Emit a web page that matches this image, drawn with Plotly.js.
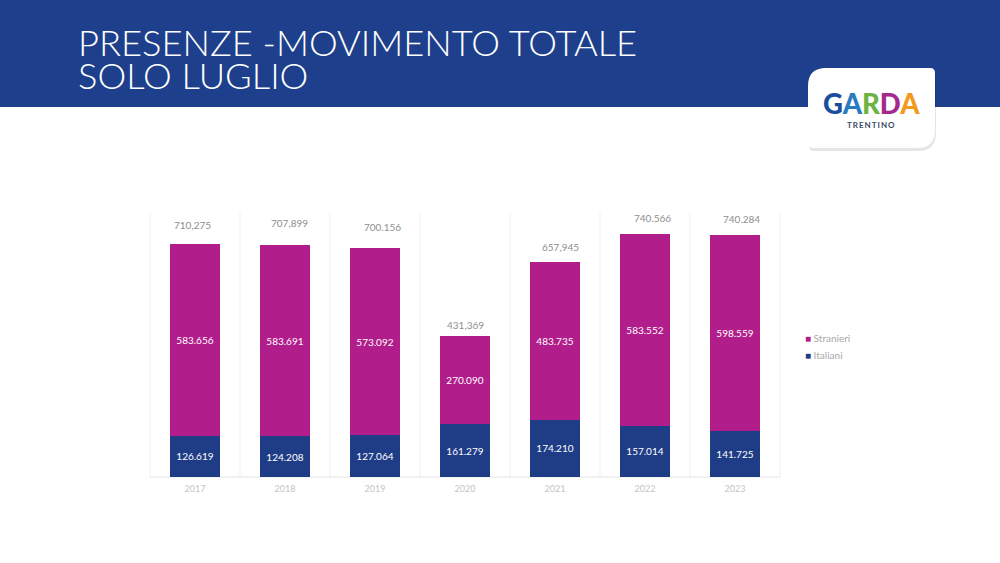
<!DOCTYPE html>
<html><head><meta charset="utf-8">
<script src="https://cdn.plot.ly/plotly-3.0.1.min.js"></script>
<style>html,body{margin:0;padding:0;background:#fff}#chart{width:1000px;height:563px}</style>
</head><body><div id="chart"></div>
<script>
const years = ['2017','2018','2019','2020','2021','2022','2023'];
const italiani = [126619,124208,127064,161279,174210,157014,141725];
const stranieri = [583656,583691,573092,270090,483735,583552,598559];
const totalLabels = ['710,275','707,899','700.156','431,369','657,945','740.566','740.284'];
const seriesNames = ['Italiani','Stranieri'];
const titleLines = ['PRESENZE -MOVIMENTO TOTALE','SOLO LUGLIO'];
const logoLetters = ['G','A','R','D','A'];
const logoSub = 'TRENTINO';

const BLUE='#1f3d87', MAG='#b11e8b', HEADER='#1e3f8b';
const W=1000, H=563;
const px = v => v/W, py = v => 1 - v/H;
const fmt = v => String(v).replace(/\B(?=(\d{3})+(?!\d))/g,'.');
const totals = italiani.map((v,i)=>v+stranieri[i]);
const XD = [0.15, 0.78];

const barStyle = {type:'bar', x:years, width:0.56, textposition:'inside', insidetextanchor:'middle',
  textfont:{color:'#ffffff', size:10, family:'Lato, sans-serif'}, hoverinfo:'x+y+name', showlegend:false};
const traces = [
  Object.assign({}, barStyle, {name:seriesNames[0], y:italiani, text:italiani.map(fmt), marker:{color:BLUE}}),
  Object.assign({}, barStyle, {name:seriesNames[1], y:stranieri, text:stranieri.map(fmt), marker:{color:MAG}})
];

const shapes = [];
shapes.push({type:'rect', xref:'paper', yref:'paper', x0:0, x1:1, y0:py(107), y1:1.01, fillcolor:HEADER, line:{width:0}, layer:'below'});
for (let i=0;i<=years.length;i++){
  const xp = XD[0] + (XD[1]-XD[0])*i/years.length;
  shapes.push({type:'line', xref:'paper', yref:'paper', x0:xp, x1:xp, y0:py(477), y1:py(213), line:{color:'#efefef', width:1}, layer:'below'});
}
shapes.push({type:'line', xref:'paper', yref:'paper', x0:XD[0], x1:XD[1], y0:py(477), y1:py(477), line:{color:'#e4e4e4', width:1}, layer:'below'});
function cardPath(l,t,r,b,rtl,rtr,rbr,rbl,dx,dy){
  l+=dx;r+=dx;t+=dy;b+=dy;
  const P=(x,y)=>px(x).toFixed(5)+','+py(y).toFixed(5);
  return 'M'+P(l+rtl,t)+' L'+P(r-rtr,t)+' Q'+P(r,t)+' '+P(r,t+rtr)+
    ' L'+P(r,b-rbr)+' Q'+P(r,b)+' '+P(r-rbr,b)+
    ' L'+P(l+rbl,b)+' Q'+P(l,b)+' '+P(l,b-rbl)+
    ' L'+P(l,t+rtl)+' Q'+P(l,t)+' '+P(l+rtl,t)+' Z';
}
shapes.push({type:'path', xref:'paper', yref:'paper', path:cardPath(808,68,935,148,18,5,18,5,1,3), fillcolor:'rgba(0,0,0,0.10)', line:{width:0}});
shapes.push({type:'path', xref:'paper', yref:'paper', path:cardPath(808,68,935,148,18,5,18,5,0,0), fillcolor:'#ffffff', line:{width:0}});

const annotations = [];
annotations.push({xref:'paper', yref:'paper', x:px(76), y:py(42), xanchor:'left', yanchor:'middle', showarrow:false,
  text:titleLines[0], font:{family:'Lato, sans-serif', size:36.3, color:'#ffffff', weight:300}});
annotations.push({xref:'paper', yref:'paper', x:px(76), y:py(75), xanchor:'left', yanchor:'middle', showarrow:false,
  text:titleLines[1], font:{family:'Lato, sans-serif', size:36.3, color:'#ffffff', weight:300}});
const nudgeX = [-3,4,7,0,5,7,6], nudgeY = [19,22,21,11,15,16,16];
totals.forEach((t,i)=>annotations.push({x:i, y:t, xref:'x', yref:'y', text:totalLabels[i], showarrow:false,
  xanchor:'center', yanchor:'middle', xshift:nudgeX[i], yshift:nudgeY[i], font:{family:'Lato, sans-serif', size:10, color:'#8e8e8e'}}));
annotations.push({xref:'paper', yref:'paper', x:px(803), y:py(338), xanchor:'left', yanchor:'middle', showarrow:false,
  text:'<span style="color:'+MAG+'">■</span> '+seriesNames[1], font:{family:'Lato, sans-serif', size:10, color:'#a8a8a8'}});
annotations.push({xref:'paper', yref:'paper', x:px(803), y:py(355), xanchor:'left', yanchor:'middle', showarrow:false,
  text:'<span style="color:'+BLUE+'">■</span> '+seriesNames[0], font:{family:'Lato, sans-serif', size:10, color:'#a8a8a8'}});
const logoColors = ['#1d4e9e','#2a7cc0','#6db33f','#a5288f','#f39a1e'];
annotations.push({xref:'paper', yref:'paper', x:px(871), y:py(104), xanchor:'center', yanchor:'middle', showarrow:false,
  text:logoLetters.map((c,i)=>'<span style="color:'+logoColors[i]+'">'+c+'</span>').join(''),
  font:{family:'Lato, sans-serif', size:27.5, weight:900}});
annotations.push({xref:'paper', yref:'paper', x:px(871), y:py(125), xanchor:'center', yanchor:'middle', showarrow:false,
  text:logoSub.split('').join('\u2009'), font:{family:'Lato, sans-serif', size:8, color:'#3a4868', weight:700}});

const layout = {
  width:W, height:H, margin:{l:0,r:0,t:0,b:0}, paper_bgcolor:'#ffffff', plot_bgcolor:'rgba(0,0,0,0)',
  barmode:'stack', showlegend:false,
  xaxis:{domain:XD, type:'category', range:[-0.5, years.length-0.5], showgrid:false, zeroline:false, showline:false, ticks:'',
    tickfont:{family:'Lato, sans-serif', size:9, color:'#c4c4c4'}, ticklabelstandoff:5, fixedrange:true},
  yaxis:{domain:[py(477), py(215)], range:[0,800000], showgrid:false, zeroline:false, showticklabels:false, showline:false, fixedrange:true},
  shapes, annotations
};
Plotly.newPlot('chart', traces, layout, {displayModeBar:false, staticPlot:true});
</script></body></html>
